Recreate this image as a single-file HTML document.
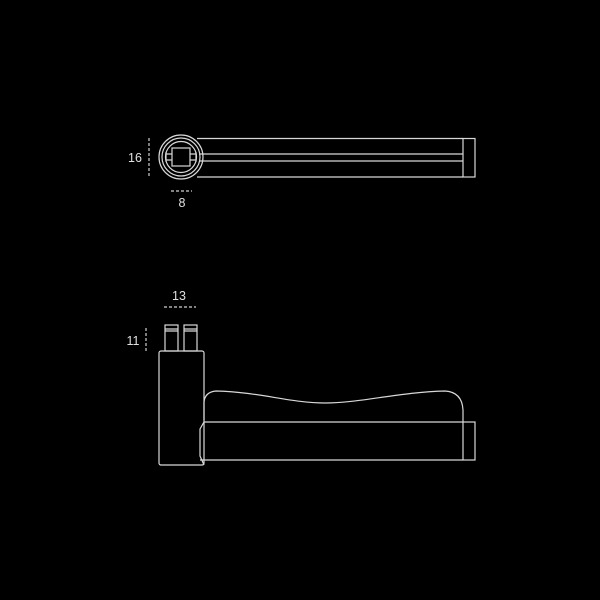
<!DOCTYPE html>
<html><head><style>html,body{margin:0;background:#000;width:600px;height:600px;overflow:hidden}</style></head>
<body>
<svg width="600" height="600" viewBox="0 0 600 600" xmlns="http://www.w3.org/2000/svg">
<g fill="none" stroke="#d8d8d8" stroke-width="1.2">
<path d="M197 138.5H463M199 154H463M199 161H463M197 177H463"/>
<rect x="463" y="138.5" width="12" height="38.5"/>
<circle cx="181" cy="157" r="22"/>
<circle cx="181" cy="157" r="19"/>
<circle cx="181" cy="157" r="15.5"/>
<rect x="172" y="148" width="18" height="18"/>
<path d="M166 152V162M196 152V162M166 154H172M166 160H172M190 154H196M190 160H196"/>
<rect x="159" y="351" width="45" height="114" rx="2"/>
<rect x="165" y="325" width="13" height="26"/>
<rect x="184" y="325" width="13" height="26"/>
<path d="M165 329H178M184 329H197M165 331H178M184 331H197"/>
<path d="M204 420V402Q205 392 216 391C260 392 290 403 325 403C360 403 400 392 445 391Q462 392 463 410V422"/>
<path d="M463 422H204L200 429V456L204 465M200 460H463"/>
<rect x="463" y="422" width="12" height="38"/>
</g>
<g stroke="#cfcfcf" stroke-width="1.2" stroke-dasharray="3,2" fill="none">
<path d="M149 138V178"/>
<path d="M171 191H192"/>
<path d="M164 307H196"/>
<path d="M146 328V352"/>
</g>
<g fill="#e0e0e0" font-family="Liberation Sans, sans-serif" font-size="12.5" text-anchor="middle">
<text x="135" y="162">16</text>
<text x="182" y="207">8</text>
<text x="179" y="300">13</text>
<text x="133" y="345">11</text>
</g>
</svg>
</body></html>
